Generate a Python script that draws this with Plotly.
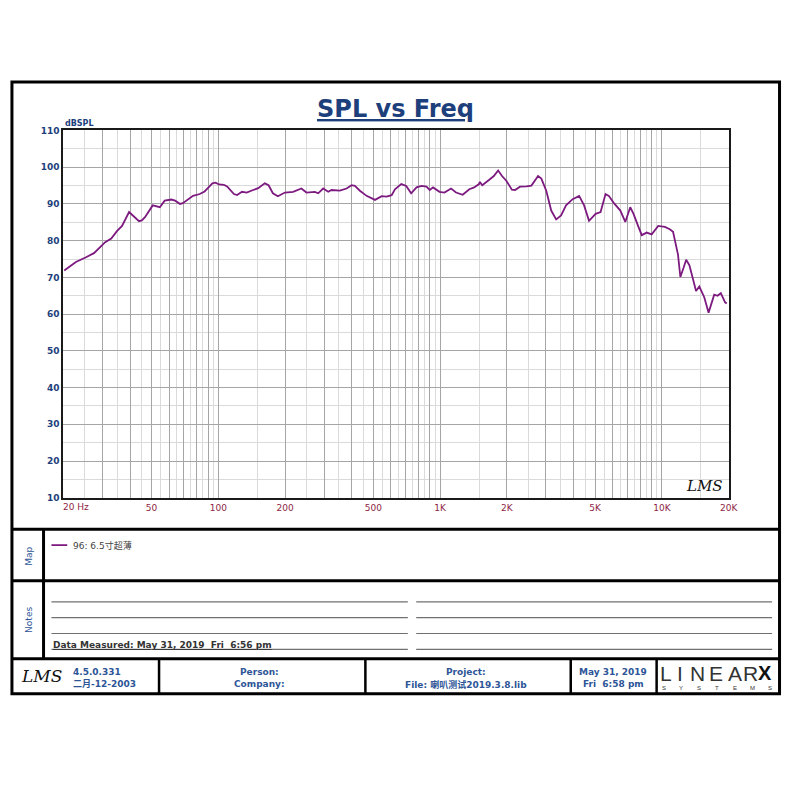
import plotly.graph_objects as go
import math

# ---------------- data ----------------
freq_hz = [20.2, 22.8, 25.2, 27.5, 30.9, 32.9, 34.9, 36.8, 39.6, 43.9, 45.2, 46.7,
           50.6, 52.6, 54.5, 57.3, 61.4, 63.9, 67.2, 69.2, 72.9, 76.9, 82.5, 86.7,
           90.6, 94.0, 97.2, 100.7, 106, 109.8, 117.6, 121.5, 127.9, 134.2, 143.6,
           151.3, 162, 168.5, 176.2, 185.5, 199.6, 217.4, 236.9, 249.7, 272.3, 282,
           297, 313, 323.8, 353, 378.6, 398.8, 412.8, 434.8, 466, 482.6, 508.6,
           545.2, 573.5, 604.5, 625.6, 668.3, 703.4, 740.3, 782.9, 825, 868, 898,
           929, 994, 1046, 1120, 1180, 1264, 1354, 1424, 1498, 1508, 1549, 1660,
           1747, 1826, 1902, 1992, 2106, 2178, 2292, 2453, 2580, 2764, 2860, 3010,
           3169, 3336, 3511, 3696, 3957, 4235, 4458, 4692, 5026, 5290, 5569, 5760,
           6063, 6495, 6837, 7197, 7448, 7838, 8112, 8540, 8989, 9624, 10308, 10850,
           11225, 11816, 12109, 12519, 12864, 13305, 14253, 14744, 15520, 16233,
           17211, 17810, 18430, 19263, 19600]
spl_db = [71.9, 74.2, 75.4, 76.6, 79.6, 80.6, 82.6, 84.0, 87.8, 85.3, 85.5, 86.4,
          89.6, 89.4, 89.1, 90.9, 91.2, 90.9, 90.0, 90.2, 91.3, 92.2, 92.7, 93.4,
          94.6, 95.6, 95.8, 95.3, 95.2, 94.7, 92.7, 92.4, 93.3, 93.1, 93.8,
          94.3, 95.6, 95.1, 92.9, 92.1, 93.1, 93.3, 94.2, 93.1, 93.3, 92.9,
          94.2, 93.3, 93.8, 93.6, 94.2, 95.1, 94.9, 93.6, 92.2, 91.8, 91.1,
          92.1, 92.0, 92.4, 94.0, 95.4, 94.9, 92.9, 94.5, 94.9, 94.7, 93.8,
          94.5, 93.3, 93.1, 94.2, 93.1, 92.5, 94.0, 94.5, 95.4, 96.0, 95.1, 96.5,
          97.6, 99.1, 97.6, 96.25, 93.9, 93.8, 94.7, 94.8, 95.0, 97.6, 96.9, 93.6,
          88.2, 85.8, 86.9, 89.6, 91.3, 92.2, 89.6, 85.4, 87.3, 87.8, 92.7, 92.2,
          90.3, 88.2, 85.1, 89.1, 87.3, 83.75, 81.5, 82.2, 81.7, 84.0, 83.75, 83.1,
          82.4, 76.2, 70.1, 72.6, 74.8, 73.3, 66.3, 67.5, 64.6, 60.4,
          65.3, 65.0, 65.7, 63.2, 62.9]

x_tick_vals = [20, 50, 100, 200, 500, 1000, 2000, 5000, 10000, 20000]
x_tick_text = ["", "50", "100", "200", "500", "1K", "2K", "5K", "10K", "20K"]
y_tick_vals = [10, 20, 30, 40, 50, 60, 70, 80, 90, 100, 110]

series_name = "96: 6.5寸超薄"

# ---------------- helpers ----------------
# figure fits inside the page body (8px default margin on each side)
W = H = 784
OFF = 8
def px(x):
    return (x - OFF) / W
def py(y):
    return 1 - (y - OFF) / H

# grid values
major_grid = []
minor_grid = []
for dec in [10, 100, 1000, 10000]:
    for k in range(1, 10):
        v = k * dec
        if 20 <= v <= 20000:
            major_grid.append(v)
        m = (k + 0.5) * dec
        if 20 <= m <= 20000:
            minor_grid.append(m)
grid_text = []
for v in major_grid:
    if v in x_tick_vals:
        grid_text.append(x_tick_text[x_tick_vals.index(v)])
    else:
        grid_text.append("")

BLUE = "#1d3f7c"
FBLUE = "#2d5597"
RED = "#8e1f45"
LINE = "#7d1a80"

fig = go.Figure()
fig.add_trace(go.Scatter(x=freq_hz, y=spl_db, mode="lines",
                         line=dict(color=LINE, width=1.8), showlegend=False,
                         hoverinfo="skip"))

fig.update_layout(
    width=W, height=H, margin=dict(l=0, r=0, t=0, b=0),
    paper_bgcolor="white", plot_bgcolor="white", showlegend=False,
    xaxis=dict(type="log", domain=[px(64), px(738)],
               range=[math.log10(20), math.log10(20000)],
               tickmode="array", tickvals=major_grid, ticktext=grid_text,
               showgrid=True, gridcolor="#a5a5a5", gridwidth=1,
               minor=dict(tickmode="array", tickvals=minor_grid, showgrid=True,
                          gridcolor="#dadada", gridwidth=1, ticklen=0),
               showline=True, linecolor="#1a1a1a", linewidth=2, mirror=True,
               ticks="", zeroline=False,
               tickfont=dict(family="DejaVu Sans", size=9, color=RED)),
    yaxis=dict(domain=[py(499), py(127)], range=[10, 110],
               tickmode="array", tickvals=y_tick_vals,
               showgrid=True, gridcolor="#a5a5a5", gridwidth=1,
               minor=dict(tickmode="array", tickvals=[v + 5 for v in y_tick_vals[:-1]],
                          showgrid=True, gridcolor="#dadada", gridwidth=1, ticklen=0),
               showline=True, linecolor="#1a1a1a", linewidth=2, mirror=True,
               ticks="", zeroline=False,
               tickfont=dict(family="DejaVu Sans", size=9, color=BLUE, weight="bold")),
)

shapes = []
def hline(y, x0, x1, w=3, c="black"):
    shapes.append(dict(type="line", xref="paper", yref="paper",
                       x0=px(x0), x1=px(x1), y0=py(y), y1=py(y),
                       line=dict(color=c, width=w)))
def vline(x, y0, y1, w=3, c="black"):
    shapes.append(dict(type="line", xref="paper", yref="paper",
                       x0=px(x), x1=px(x), y0=py(y0), y1=py(y1),
                       line=dict(color=c, width=w)))

# outer frame
shapes.append(dict(type="rect", xref="paper", yref="paper",
                   x0=px(12), x1=px(789.5), y0=py(78), y1=py(697.5),
                   line=dict(color="black", width=3)))
hline(531, 12, 789.5)
hline(583, 12, 789.5)
hline(662, 12, 789.5)
vline(44, 531, 662)
for xd in [161, 370, 578, 665]:
    vline(xd, 662, 697.5, w=2.5)
# notes lines
for yl in [604.5, 620.5, 636.5, 652.5]:
    hline(yl, 52, 413, w=1.2, c="#707070")
    hline(yl, 421.5, 782, w=1.2, c="#707070")
# legend sample line
hline(547, 52, 68, w=1.8, c=LINE)

fig.update_layout(shapes=shapes)

ann = []
def text(x, y, s, size=9, color=FBLUE, xanchor="center", family="DejaVu Sans",
         weight="normal", angle=0, style="normal"):
    ann.append(dict(x=px(x), y=py(y), xref="paper", yref="paper", text=s,
                    showarrow=False, xanchor=xanchor, yanchor="middle",
                    textangle=angle,
                    font=dict(size=size, color=color, family=family,
                              weight=weight, style=style)))

# title
text(401, 105, "<u>SPL vs Freq</u>", size=24, color=BLUE, weight="bold")
# y unit
text(64, 120, "dBSPL", size=8, color=BLUE, xanchor="left", weight="bold")
# 20 Hz label
ann.append(dict(x=math.log10(20), y=py(508), xref="x", yref="paper",
                text="20 Hz", showarrow=False, xanchor="left", yanchor="middle",
                xshift=-2,
                font=dict(size=9, color=RED, family="DejaVu Sans")))
# LMS signature in plot
text(714, 487, "LMS", size=15, color="#111111", family="DejaVu Serif",
     style="italic")
# Map / Notes labels
text(29, 558, "Map", size=9, color=FBLUE, angle=-90)
text(29, 623, "Notes", size=9, color=FBLUE, angle=-90)
# legend text
text(72, 547, series_name, size=9, color="#444444", xanchor="left",
     family="DejaVu Sans, Noto Sans CJK SC")
# data measured
text(52, 648, "<u>Data Measured: May 31, 2019\u00a0 Fri\u00a0 6:56 pm</u>", size=9,
     color="#333333", xanchor="left", weight="bold")
# footer
text(42, 680, "LMS", size=17, color="#111111", family="DejaVu Serif", style="italic")
text(72, 675.5, "4.5.0.331", size=9, xanchor="left", weight="bold",
     family="DejaVu Sans, Noto Sans CJK SC")
text(72, 688, "二月-12-2003", size=9, xanchor="left", weight="bold",
     family="DejaVu Sans, Noto Sans CJK SC")
text(263, 675.5, "Person:", size=9, weight="bold")
text(263, 688, "Company:", size=9, weight="bold")
text(472, 675.5, "Project:", size=9, weight="bold")
text(472, 688, "File: 喇叭测试2019.3.8.lib", size=9, weight="bold",
     family="DejaVu Sans, Noto Sans CJK SC")
text(621, 675.5, "May 31, 2019", size=9, weight="bold")
text(621, 688, "Fri\u00a0 6:58 pm", size=9, weight="bold")
# LINEARX logo
for cx, ch in zip([675, 689, 706, 725, 744, 760], "LINEAR"):
    text(cx, 677, ch, size=21, color="#333333", family="Liberation Sans")
text(775, 677, "X", size=20, color="#111111", family="Liberation Sans", weight="bold")
for i, ch in enumerate("SYSTEMS"):
    text(672 + i * 18.0, 691.5, ch, size=6, color="#333333", family="Liberation Sans")

fig.update_layout(annotations=ann)

fig.write_html("out.html", config={"displayModeBar": False})
